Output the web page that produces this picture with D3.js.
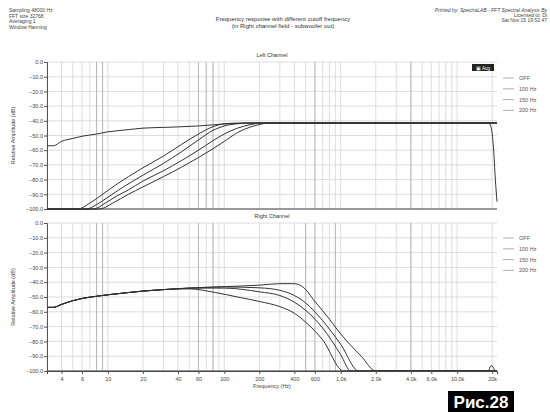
<!DOCTYPE html>
<html>
<head>
<meta charset="utf-8">
<script src="https://cdn.jsdelivr.net/npm/d3@7"></script>
<style>
  body { margin: 0; background: #fff; }
  text { font-family: "Liberation Sans", Arial, sans-serif; }
</style>
</head>
<body>
<div class="chart"></div>
<script>
// Chart data
var seriesNames = ["OFF", "100 Hz", "150 Hz", "200 Hz"];
var dbTicks = [0, -10, -20, -30, -40, -50, -60, -70, -80, -90, -100];
var freqTicks = [4, 6, 10, 20, 40, 60, 100, 200, 400, 600, 1000, 2000, 4000, 6000, 10000, 20000];
var freqTickLabels = ["4", "6", "10", "20", "40", "60", "100", "200", "400", "600", "1.0k", "2.0k", "4.0k", "6.0k", "10.0k", "20k"];

// Left channel
var leftOffFreq = [3, 3.4, 4, 5, 6, 8, 10, 12, 15, 20, 30, 60, 100, 200, 1000, 10000, 18500, 19500, 20500, 21300, 22000];
var leftOffDb   = [-57, -57, -54, -52, -50.5, -49, -47.5, -46.8, -46, -45, -44.5, -43.5, -42.2, -41.5, -41.5, -41.5, -41.5, -44, -58, -80, -95];
var left100Freq = [3, 5.5, 7, 9, 12, 15, 20, 30, 43, 60, 80, 100, 140, 22000];
var left100Db   = [-100, -100, -96, -90, -83, -78, -72, -64, -56, -49, -44, -42, -41.5, -41.5];
var left150Freq = [3, 6.5, 8, 10, 13, 20, 30, 43, 60, 80, 100, 130, 170, 22000];
var left150Db   = [-100, -100, -97, -92, -86, -77, -69, -61, -53, -46.5, -43.5, -42, -41.5, -41.5];
var left200Freq = [3, 7.5, 9.5, 12, 15, 20, 30, 43, 60, 80, 100, 130, 170, 210, 22000];
var left200Db   = [-100, -100, -96, -91, -87, -81, -74, -67, -60, -53.5, -49, -45, -42.5, -41.5, -41.5];
var left250Freq = [3, 8.5, 11, 15, 20, 30, 43, 60, 80, 100, 130, 180, 250, 22000];
var left250Db   = [-100, -100, -96, -90, -85, -78, -71.5, -65, -59, -54, -48, -43.5, -41.5, -41.5];

// Right channel
var rightOffFreq = [3, 3.4, 4, 5, 6, 8, 10, 15, 20, 30, 50, 100, 200, 300, 400, 470, 600, 800, 1000, 1500, 2000, 18500, 19500, 20500, 21200, 22000];
var rightOffDb   = [-57, -57, -55, -52.5, -51, -49.5, -48.5, -47, -46, -45, -44, -43, -42, -41, -41, -43, -53, -65, -75, -90, -100, -100, -96.5, -97.5, -100, -100];
var right100Freq = [3, 3.4, 4, 5, 6, 8, 10, 15, 20, 30, 50, 100, 200, 300, 400, 500, 700, 1000, 1430, 22000];
var right100Db   = [-57, -57, -55, -52.5, -51, -49.5, -48.5, -47, -46, -45, -44, -43.2, -43.8, -45.5, -49, -54, -66, -82, -100, -100];
var right150Freq = [3, 3.4, 4, 5, 6, 8, 10, 15, 20, 30, 50, 100, 200, 300, 400, 500, 700, 1000, 1220, 22000];
var right150Db   = [-57, -57, -55, -52.5, -51, -49.5, -48.5, -47, -46, -45, -44, -44, -46.5, -49, -53.5, -59, -71, -89, -100, -100];
var right200Freq = [3, 3.4, 4, 5, 6, 8, 10, 15, 20, 30, 50, 84, 130, 200, 300, 400, 500, 700, 1060, 22000];
var right200Db   = [-57, -57, -55, -52.5, -51, -49.5, -48.5, -47, -46, -45, -44.5, -47, -50, -53, -56.5, -61, -67, -79, -100, -100];

var leftSeries = [
  [leftOffFreq, leftOffDb], [left100Freq, left100Db], [left150Freq, left150Db],
  [left200Freq, left200Db], [left250Freq, left250Db]
];
var rightSeries = [
  [rightOffFreq, rightOffDb], [right100Freq, right100Db],
  [right150Freq, right150Db], [right200Freq, right200Db]
];

// darker vertical lines seen in the scan
var darkLinesTop = [8, 9, 60, 70, 80, 600, 4000];
var darkLinesBottom = [8, 9, 60, 80, 500, 600, 900, 4000];

var svgWidth = 550;
var svgHeight = 412;

var svg = d3.select(".chart")
  .append("svg")
  .attr("width", svgWidth)
  .attr("height", svgHeight);

var x = d3.scaleLog()
  .domain([3, 22000])
  .range([47, 497]);

var panels = [
  { top: 62, bottom: 209, title: "Left Channel", series: leftSeries, dark: darkLinesTop, legendY: 78 },
  { top: 223, bottom: 371, title: "Right Channel", series: rightSeries, dark: darkLinesBottom, legendY: 238 }
];

// grid frequencies 3..9, 10..90, ...
var gridFreqs = [];
for (var dec = 1; dec <= 10000; dec *= 10) {
  for (var m = 1; m <= 9; m++) {
    var f = m * dec;
    if (f >= 3 && f <= 22000) gridFreqs.push(f);
  }
}

var line = d3.line().curve(d3.curveMonotoneX);

panels.forEach(function(p) {
  var y = d3.scaleLinear().domain([-100, 0]).range([p.bottom, p.top]);
  var g = svg.append("g");

  // horizontal grid
  g.selectAll(".hgrid")
    .data(dbTicks)
    .enter()
    .append("line")
    .attr("x1", x.range()[0])
    .attr("x2", x.range()[1])
    .attr("y1", d => y(d))
    .attr("y2", d => y(d))
    .attr("stroke", "#d4d4d4")
    .attr("stroke-width", 0.8);

  // vertical grid
  g.selectAll(".vgrid")
    .data(gridFreqs)
    .enter()
    .append("line")
    .attr("x1", d => x(d))
    .attr("x2", d => x(d))
    .attr("y1", p.top)
    .attr("y2", p.bottom)
    .attr("stroke", "#d4d4d4")
    .attr("stroke-width", 0.8);

  g.selectAll(".dgrid")
    .data(p.dark)
    .enter()
    .append("line")
    .attr("x1", d => x(d))
    .attr("x2", d => x(d))
    .attr("y1", p.top)
    .attr("y2", p.bottom)
    .attr("stroke", "#b4b4b4")
    .attr("stroke-width", 0.9);

  // left axis
  var leftAxis = d3.axisLeft(y)
    .tickValues(dbTicks)
    .tickSize(3)
    .tickFormat(d3.format(".1f"));
  var ya = g.append("g")
    .attr("transform", `translate(${x.range()[0]},0)`)
    .call(leftAxis);
  ya.select(".domain").attr("stroke", "#555");
  ya.selectAll(".tick line").attr("stroke", "#555");
  ya.selectAll(".tick text")
    .attr("font-size", 5.5)
    .attr("fill", "#444")
    .attr("x", -4);

  // bottom line of the panel
  g.append("line")
    .attr("x1", x.range()[0])
    .attr("x2", x.range()[1])
    .attr("y1", p.bottom)
    .attr("y2", p.bottom)
    .attr("stroke", "#444")
    .attr("stroke-width", 1);

  // panel title
  g.append("text")
    .attr("x", 272)
    .attr("y", p.top - 5)
    .attr("text-anchor", "middle")
    .attr("font-size", 5.5)
    .attr("fill", "#333")
    .text(p.title);

  // y axis title
  g.append("text")
    .attr("transform", `translate(15, ${(p.top + p.bottom) / 2}) rotate(-90)`)
    .attr("text-anchor", "middle")
    .attr("font-size", 5.5)
    .attr("fill", "#444")
    .text("Relative Amplitude (dB)");

  // curves
  g.selectAll(".curve")
    .data(p.series)
    .enter()
    .append("path")
    .attr("d", s => line(s[0].map((f, i) => [x(f), y(Math.max(-100, s[1][i]))])))
    .attr("fill", "none")
    .attr("stroke", "#333")
    .attr("stroke-width", 1);

  // legend
  var lg = g.append("g");
  seriesNames.forEach(function(name, i) {
    lg.append("line")
      .attr("x1", 503)
      .attr("x2", 514)
      .attr("y1", p.legendY + i * 10.8)
      .attr("y2", p.legendY + i * 10.8)
      .attr("stroke", "#999")
      .attr("stroke-width", 0.8);
    lg.append("text")
      .attr("x", 519)
      .attr("y", p.legendY + i * 10.8 + 2)
      .attr("font-size", 5.5)
      .attr("fill", "#555")
      .text(name);
  });
});

// bottom axis (frequency)
var bottomAxis = d3.axisBottom(x)
  .tickValues(freqTicks)
  .tickSize(3)
  .tickFormat((d, i) => freqTickLabels[i]);
var xa = svg.append("g")
  .attr("transform", "translate(0,371)")
  .call(bottomAxis);
xa.select(".domain").attr("stroke", "#444");
xa.selectAll(".tick line").attr("stroke", "#555");
xa.selectAll(".tick text")
  .attr("font-size", 5.5)
  .attr("fill", "#444");

svg.append("text")
  .attr("x", 272)
  .attr("y", 388)
  .attr("text-anchor", "middle")
  .attr("font-size", 5.5)
  .attr("fill", "#444")
  .text("Frequency (Hz)");

// header
var info = ["Sampling  48000 Hz", "FFT size  32768", "Averaging  1", "Window    Hanning"];
svg.selectAll(".info")
  .data(info)
  .enter()
  .append("text")
  .attr("x", 9)
  .attr("y", (d, i) => 12 + i * 5.5)
  .attr("font-size", 5)
  .attr("fill", "#444")
  .text(d => d);

svg.append("text")
  .attr("x", 283)
  .attr("y", 21)
  .attr("text-anchor", "middle")
  .attr("font-size", 6)
  .attr("fill", "#333")
  .text("Frequency response with different cutoff frequency");
svg.append("text")
  .attr("x", 283)
  .attr("y", 28)
  .attr("text-anchor", "middle")
  .attr("font-size", 6)
  .attr("fill", "#333")
  .text("(in Right channel field - subwoofer out)");

var printed = ["Printed by: SpectraLAB - FFT Spectral Analysis By", "Licensed to: Di", "Sat Nov 15 19:52:47"];
svg.selectAll(".printed")
  .data(printed)
  .enter()
  .append("text")
  .attr("x", 547)
  .attr("y", (d, i) => 12 + i * 5)
  .attr("text-anchor", "end")
  .attr("font-size", 5)
  .attr("font-style", (d, i) => i === 0 ? "italic" : "normal")
  .attr("fill", "#444")
  .text(d => d);

// small logo badge
svg.append("rect")
  .attr("x", 472).attr("y", 64).attr("width", 22).attr("height", 7)
  .attr("fill", "#222");
svg.append("text")
  .attr("x", 483).attr("y", 69.5)
  .attr("text-anchor", "middle")
  .attr("font-size", 4.5)
  .attr("fill", "#fff")
  .text("▣ Aug");

// figure label
svg.append("rect")
  .attr("x", 448).attr("y", 391).attr("width", 66).attr("height", 21)
  .attr("fill", "#000");
svg.append("text")
  .attr("x", 481).attr("y", 408)
  .attr("text-anchor", "middle")
  .attr("font-size", 17)
  .attr("font-weight", "bold")
  .attr("fill", "#fff")
  .text("Рис.28");
</script>
</body>
</html>
